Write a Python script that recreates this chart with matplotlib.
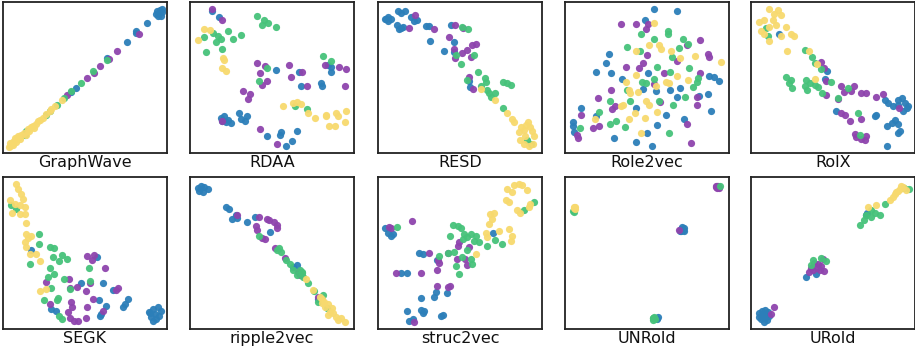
import matplotlib
matplotlib.use("Agg")
import matplotlib.pyplot as plt
import numpy as np

# Embedding coordinates (0-100 box, y up), one list per class
# class order: blue, purple, green, yellow

GW_BLUE = [(95, 92.7), (94, 94), (96.5, 91), (95.5, 95), (93.5, 92), (96.8, 93.5), (94.5, 90.5),
           (97, 95.5), (87.8, 86), (81.2, 79.6), (80.8, 81), (75.5, 73.2), (63.7, 62.6), (44.5, 42.9),
           (41.4, 40.7)]
GW_PURPLE = [(82.7, 79), (69.4, 67.7), (64.7, 62.2), (59.2, 57.8), (55.7, 52.7), (51, 49.5), (38.8, 38.5)]
GW_GREEN = [(63.3, 61.5), (54.7, 54.5), (47.3, 46.6), (41.2, 41.3), (37.1, 36.7), (33, 31.9), (28.6, 27.5),
            (26.5, 25.3), (13.9, 14.3), (13.3, 12.1)]
GW_YELLOW = [(35.7, 35.2), (31.6, 30.8), (28.5, 28), (24.5, 23.1), (21.4, 20.9), (18.4, 18), (15.3, 15.8),
             (11.2, 12.1), (8.2, 9.2), (6.1, 7), (4.5, 4.8), (7, 8), (10, 10.5), (17, 17), (20, 19.5),
             (22.5, 22), (26.5, 25.5), (29.5, 29), (5.5, 6), (9, 11), (12.5, 13), (3.8, 4), (6, 5),
             (8, 7), (10.5, 9), (14, 12), (16, 14.5), (19, 16.5), (4.5, 6.5), (7.5, 10)]

RD_BLUE = [(13.4, 94), (17.8, 89.9), (52.2, 54.9), (66.4, 53.8), (67.4, 44.4), (79.6, 46.2), (80.6, 44.4),
           (86.2, 57.1), (86.2, 53.8), (84.2, 58.2), (18.8, 23.1), (20.9, 24.2), (22.9, 22), (24.9, 19.8),
           (21.9, 20.2), (19.8, 20.9), (29.6, 26.2), (31, 22.4), (35, 24.2), (33.6, 20.9), (47.2, 11.4),
           (54.9, 12.1), (55.3, 13.6), (58.3, 4.8), (61.9, 8.1), (65.4, 14.3)]
RD_PURPLE = [(13.4, 95.6), (19.4, 88.4), (41.1, 59.3), (42.7, 53.2), (45.7, 57.6), (47.2, 47.7), (44.1, 45.1),
             (60.3, 58.2), (61.3, 50.1), (68, 53.8), (71.1, 44.6), (82.6, 58.2), (91.1, 57.1), (95.3, 55.6),
             (94.3, 44.4), (32.4, 41.3), (36.4, 39.1), (35.6, 35.6), (19.8, 20.9), (42.7, 16), (53.2, 5.9)]
RD_GREEN = [(41.1, 90.8), (45.1, 88), (44.1, 84.6), (47.8, 86.2), (52.2, 83.5), (14.2, 79.6), (8.3, 76.5),
            (16.8, 77.6), (15.8, 73.8), (18.8, 75.8), (23.1, 80.7), (26.5, 75.2), (31.4, 78), (19.8, 68.8),
            (9.7, 66.6), (47.2, 56.5), (42.1, 47.7), (81.2, 64.2), (86.2, 60.9), (63.9, 30.8), (71.4, 29)]
RD_YELLOW = [(8.3, 81.8), (12.1, 81.3), (4.7, 74.7), (20.4, 63.1), (20.9, 61.5), (19.8, 56), (21.9, 54.5),
             (56.9, 31.2), (62.9, 33.4), (65.4, 34.1), (67.4, 32.5), (72.1, 26.8), (76.1, 23.1), (83, 25.3),
             (83.2, 24.2), (89, 26.6), (95.1, 27.7), (90.1, 24.2), (85, 17.6), (88.3, 17.6), (94.7, 20.2)]

RS_BLUE = [(4, 89), (6.1, 90.1), (8.1, 89), (6.1, 87.5), (5, 88.5), (12.1, 94.1), (14.1, 92.5), (16.2, 94.1),
           (11.7, 84.6), (14.1, 82.9), (13.1, 81.8), (15.2, 83.7), (20.2, 90.3), (23.8, 88.1), (22.2, 87.5),
           (29.3, 84.2), (31.3, 84.2), (44.4, 84.8), (31.9, 74.3), (40.4, 67.7), (46.5, 73.6), (46.5, 66.8),
           (55.6, 47.9), (56.2, 43.9)]
RS_PURPLE = [(22.8, 91.2), (18.6, 82.9), (33.9, 82.4), (46.9, 84.6), (52.1, 83.1), (43, 76.9), (46.1, 69.2),
             (46.9, 62.6), (51.5, 65.9), (54.1, 68.1), (57.6, 71.4), (59.6, 72.5), (57, 63.7), (55.6, 50.5),
             (57.8, 42.2)]
RS_GREEN = [(51.5, 83.5), (54.9, 82.2), (47.5, 64.8), (58.6, 64.8), (50.5, 58.9), (61.2, 53.8), (65, 49.6),
            (65.7, 47.3), (54.5, 48.6), (62.6, 44.4), (66.3, 41.8), (67.7, 40), (71.3, 40), (76.4, 47.3),
            (78.8, 46.6), (80.8, 45.1), (69.1, 37.4), (76.4, 29.7), (90.9, 8.8), (93.3, 6.2)]
RS_YELLOW = [(62.6, 42.2), (71.1, 35.2), (78.8, 26.8), (81.8, 22.6), (82.8, 20.2), (91.3, 20.4), (92.9, 17),
             (86.9, 17.4), (88.9, 15.4), (93.9, 14.3), (85.9, 13.6), (94.9, 11), (86.5, 8.8), (89.9, 11),
             (91.9, 4.4), (94.5, 6.2), (88.9, 6.2), (90.5, 18.5)]

R2_BLUE = [(54.1, 95.2), (68.1, 93.8), (48.9, 87.9), (26.7, 65.5), (24.8, 59.3), (18.8, 53.4), (28.3, 52.7),
           (34.9, 49), (50.5, 53.2), (47.5, 42.4), (55.6, 41.1), (64, 41.8), (70.3, 42.9), (81.8, 38),
           (87.5, 51.2), (90.9, 50.5), (94, 48), (87.3, 38.9), (68.1, 36.9), (43.4, 29.7), (61.6, 25.3),
           (72.7, 22.4), (55.9, 18.7), (9.5, 30.1), (4.6, 20.2), (4.6, 18), (5.5, 13.6), (19.2, 24.8),
           (29.7, 9.9), (49.9, 13.2), (43.4, 7.3), (53.1, 4.8), (89.3, 27.9)]
R2_PURPLE = [(33.9, 85.3), (43.4, 85.1), (50.5, 85.7), (49.5, 81.8), (74.3, 71.4), (82.4, 74.7), (50.1, 64.8),
             (47.5, 59.8), (37, 56.7), (45.1, 56), (68.1, 60.9), (60.2, 53.2), (82.2, 53.2), (86.9, 65.5),
             (87.9, 63.7), (54.5, 45.7), (58.2, 34.1), (27.9, 41.8), (20.2, 36.3), (30.3, 31.2), (28.9, 29.2),
             (9.5, 25.1), (20.8, 18), (17.2, 16.5), (7.1, 12.1), (8.1, 9.9), (74.3, 19.1), (80.2, 36.9),
             (80.4, 32.1), (76.8, 6.6)]
R2_GREEN = [(62.6, 80.7), (62.6, 78.5), (46.1, 78.5), (54.1, 75.4), (71.7, 75.8), (75.2, 72.1), (69.7, 69.5),
            (38, 70.5), (45.9, 67.5), (65.1, 63.7), (56.2, 57.1), (64, 53.8), (75.4, 56), (81.4, 49.5),
            (80.2, 47.3), (47.1, 47.3), (49.5, 46.2), (54.1, 48.8), (37.8, 42), (39.8, 34.6), (27.7, 34.3),
            (20.6, 27.3), (30.9, 21.3), (27.3, 19.1), (36.4, 17.4), (57.2, 34.6), (65.7, 31.9), (73.3, 36.9),
            (77.8, 44), (9.1, 16.5), (63.6, 13.2)]
R2_YELLOW = [(54.5, 86.2), (51.5, 71.4), (57.6, 71.4), (58.6, 69.2), (43.4, 67.5), (64.7, 67.5), (70.3, 63.1),
             (79.4, 64.2), (95, 60.2), (43.4, 51.6), (37, 46.8), (39.1, 41.8), (44.4, 40.2), (61.6, 47.3),
             (63.2, 46.6), (68.1, 51), (74.7, 48.1), (49.1, 34.6), (51.1, 31.9), (35.4, 31.9), (34.3, 31.2),
             (56.2, 27.3), (42.4, 26.4), (39, 22.4), (48.5, 23.5), (18.2, 22.4), (46.5, 13.2), (55.6, 44.4),
             (39.4, 39.6)]

RX_BLUE = [(16.9, 78.9), (46.5, 54.5), (45.3, 48.8), (52, 28.1), (81.6, 35.2), (83.7, 33), (86.7, 30.8),
           (89.8, 35.2), (91.8, 36.3), (93.9, 33), (95.9, 30.8), (92.9, 27.5), (94.9, 29.7), (89.8, 31.9),
           (76.5, 25.3), (75.5, 24.2), (87.8, 22), (85.7, 19.8), (82.7, 17.6), (89.4, 19.3), (89.8, 13.2),
           (90.8, 14.3), (82.7, 4.8)]
RX_PURPLE = [(42.9, 60), (44.5, 56.3), (45.9, 47.5), (45.9, 38.5), (53.1, 35.6), (55.1, 44.4), (56.7, 40.7),
             (61.2, 41.3), (62.9, 44.4), (66.9, 40), (69.9, 40), (76.5, 36.9), (80.6, 39.1), (55.1, 26.4),
             (57.1, 25.3), (60.2, 20.9), (66.9, 22.4), (90.2, 29.7), (63.3, 12.7), (64.3, 10.5), (67.3, 9.2),
             (70.4, 11.4), (69.4, 8.8)]
RX_GREEN = [(9.2, 83.1), (10.6, 77.4), (32.7, 68.1), (37.1, 63.3), (38.8, 59.3), (42.4, 55.4), (49, 47.3),
            (21.4, 50.1), (24.5, 48.4), (22.9, 46.2), (25.1, 42.9), (33.7, 48.4), (32.7, 44.4), (35.7, 46.2),
            (34.3, 41.8), (38.8, 45.1), (40.8, 43.5), (43.3, 40), (53.1, 36.3), (59.2, 43.3), (65.3, 26.8),
            (66.3, 12.1)]
RX_YELLOW = [(11.2, 95.6), (16.3, 94.5), (14.3, 92.3), (18.4, 91.2), (5.1, 86.8), (8.2, 87.9), (13.3, 87.9),
             (15.3, 84.6), (11.2, 83.5), (21.4, 83.5), (6.1, 80.7), (8.2, 79.1), (18.4, 77.4), (24.1, 79.1),
             (26.5, 77.4), (11.2, 74.5), (21.8, 67.3), (35.3, 67.3), (40.4, 59.1), (38.8, 48.8)]

SG_BLUE = [(17.3, 52), (57.3, 47.3), (47.8, 30.1), (61, 30.1), (58.5, 18.9), (29.5, 13.2), (32.5, 12.1),
           (67.1, 25.7), (62.6, 14.9), (60, 10.1), (59, 8.4), (73.2, 14.3), (74.2, 16.5), (76.2, 19.8),
           (89, 11), (91.5, 13.2), (94.5, 14.3), (92.5, 9.9), (95.1, 8.8), (90.4, 7.7), (93.5, 6.6),
           (89.4, 10.5), (96.5, 12.1), (91.5, 5.5)]
SG_PURPLE = [(51.2, 48.1), (54.5, 45.1), (55.3, 48.8), (62, 40.4), (26, 30.8), (40.2, 33), (41.1, 26.8),
             (45.1, 27.5), (50.4, 25.3), (52.8, 30.5), (54.9, 19.8), (28.5, 16.5), (41.7, 17.6), (42.3, 14.3),
             (51.4, 14.7), (39.6, 11), (40.7, 7.3), (43.1, 5.5), (45.7, 5.5), (50.8, 7.3), (70.1, 27),
             (68.7, 25.7), (61, 12.1)]
SG_GREEN = [(5.1, 81.8), (7.7, 79.1), (22, 62.6), (22, 55.6), (28.5, 53.8), (30.9, 53.4), (30.5, 47.3),
            (36.2, 49), (34.1, 44.6), (39, 46.2), (16.3, 42.9), (28.9, 40.2), (30.9, 36.5), (27.4, 34.3),
            (37, 33), (29.5, 26.8), (40.7, 26.2), (24.8, 18.9), (32.9, 18.9), (33.5, 20.7), (34.1, 8.8),
            (36.2, 6.6), (53.3, 31.9), (52.4, 40.4)]
SG_YELLOW = [(8.1, 95.6), (9.1, 92.3), (11.2, 89), (12.2, 85.7), (4.1, 84.6), (7.1, 82.4), (10.2, 81.3),
             (13.2, 80.2), (5.7, 76.3), (10.6, 75.4), (13.2, 75.8), (13.8, 69.7), (14.2, 62.6), (17.3, 60.9),
             (15.2, 60), (13.2, 57.1), (13.8, 53.8), (16.3, 49.5), (20.3, 49.5), (22.4, 44.6), (22.8, 25.3),
             (26, 26.4)]

RP_BLUE = [(4.6, 93), (6.7, 93.8), (8.7, 93.4), (10.7, 92.3), (7.7, 90.1), (5.6, 90.5), (22.2, 80.2),
           (23.8, 78.7), (25.4, 72.5), (27.8, 74.7), (28.8, 72.9), (34.9, 70.3), (39.5, 73.6), (49, 63.5),
           (65.1, 41.8), (78.2, 19.8), (63.1, 41.1)]
RP_PURPLE = [(28.8, 75.2), (42.3, 73.6), (47, 72.5), (48.4, 71.4), (51, 70.3), (53, 68.1), (53, 66.4),
             (40.3, 67.9), (40.9, 65), (43.9, 59.8), (45.6, 58.9), (52, 53.2), (58.1, 46.6), (66.1, 37.4),
             (67.1, 35.6), (78.2, 21.3)]
RP_GREEN = [(42.3, 61.5), (53, 52), (54, 53.2), (55.6, 50.5), (58.5, 45.5), (61.1, 42.6), (63.1, 38.9),
            (67.1, 38.9), (68.5, 36.7), (65.1, 35.6), (69, 34.5), (72.2, 30.1), (75.8, 25.1), (81.3, 22.4),
            (77.8, 18), (83.3, 13.6), (68.5, 37.4)]
RP_YELLOW = [(70.6, 33), (75.2, 25.7), (79.2, 21.3), (80.2, 19.8), (81.9, 17.6), (84.3, 16.3), (82.3, 14.7),
             (86.3, 13.6), (85.3, 11.4), (87.3, 10.3), (89.3, 8.1), (91.9, 7), (94.4, 4.8), (90.3, 5.9),
             (84.3, 9.2), (80.2, 17)]

S2_BLUE = [(4, 66.4), (6.1, 62.9), (7.7, 61.3), (9.1, 62.4), (25.3, 50.1), (27.3, 49.2), (35.8, 45.3),
           (14.1, 37.1), (17.8, 37.1), (70.1, 63.1), (35.4, 24.2), (34.3, 21.3), (42, 23.5), (26.3, 20.2),
           (17.8, 12.1), (26.3, 12.5), (27.3, 10.3), (28.3, 12.1), (19.2, 5.5), (21.2, 6.6), (38.4, 8.8),
           (39.4, 9.2)]
S2_PURPLE = [(6.5, 67.3), (8.1, 66.4), (20.8, 70.8), (49.1, 57.4), (48.5, 54.5), (31.3, 50.3), (42.4, 49.7),
             (36.4, 45.3), (37.4, 43.7), (52.9, 46.2), (54.1, 42.2), (48.1, 45.9), (11.1, 37.1), (26.3, 37.1),
             (36, 38.7), (36, 28.6), (42.4, 27.9), (44, 28.6), (21.8, 4.4), (55.6, 53.8)]
S2_GREEN = [(95, 83.7), (88.9, 78.2), (45.5, 68.1), (48.5, 67.5), (50.5, 66.6), (44.1, 61.3), (52.5, 62.6),
            (54.5, 60.4), (56.6, 62.6), (59.6, 61.5), (52.1, 59.3), (58.6, 58.2), (61.6, 57.1), (37.4, 47.7),
            (42.4, 50.1), (46.5, 50.8), (51.5, 47.5), (54.5, 52), (47.5, 41.5), (57.6, 42.6), (49.5, 36.3),
            (71.1, 58.7), (75.8, 55.6), (66.7, 54.3), (11.7, 67), (56.6, 46.2)]
S2_YELLOW = [(78.8, 92.3), (82.8, 94.5), (85.9, 95.2), (87.9, 94.5), (81.8, 90.1), (77.8, 84.6), (79.8, 83.5),
             (90.9, 91.4), (92.9, 82.2), (91.9, 80.4), (84.8, 78), (86.5, 76.3), (68.3, 75.4), (70.7, 76.3),
             (69.7, 72.5), (67.7, 69.2), (65.7, 63.1), (73.7, 64.8), (79.8, 65.9), (81.8, 60.9), (80.8, 58.2),
             (59.6, 49.5), (66.7, 60.4)]

UN_BLUE = [(71.3, 65.5), (70.5, 66), (72, 65), (71, 64.8), (72.3, 66.2), (70.2, 64.6), (72.6, 64.6),
           (71.6, 67), (56.2, 6.6), (56.6, 7.6)]
UN_PURPLE = [(69.8, 65), (92.9, 93.8), (92.3, 93.2), (93.5, 94.3), (92.8, 92.8), (91.8, 94.2), (93.8, 93)]
UN_GREEN = [(53.9, 7), (53.4, 7.4), (54.6, 6.8), (53.6, 6.2), (54.4, 8), (94.3, 94.4), (5.1, 77.6),
            (5.5, 77.2)]
UN_YELLOW = [(5.5, 79.6), (5.2, 80.5), (5.8, 78.8), (5.9, 80.2)]

UR_BLUE = [(7.1, 8.8), (9.2, 7.7), (6.1, 6.6), (8.1, 10.3), (10.2, 11.4), (5.1, 8.1), (7.7, 4.8),
           (11.2, 8.8), (6.5, 11.6), (9.5, 5.7), (4.6, 10.5), (8.6, 12.6), (33.6, 34.1), (39.7, 36.3),
           (69.9, 74.7), (70.9, 76.3)]
UR_PURPLE = [(14.3, 14.3), (12.2, 9.9), (35.6, 37.4), (40.7, 42.9), (43.8, 46.2), (41.8, 38.7), (44.4, 38.2),
             (38.7, 43.5), (42.4, 41.3), (36.7, 40), (40.2, 40), (37.5, 38.5)]
UR_GREEN = [(37.7, 45.1), (42.4, 46.8), (45.8, 44.6), (36.7, 41.8), (66.2, 68.1), (68.6, 71.4), (70, 74.7),
            (73.3, 73.6), (78.4, 74.7), (75.4, 76.3), (72.9, 78.5), (81.5, 82.4), (93.3, 92.5), (96.1, 92.3)]
UR_YELLOW = [(71.3, 80.2), (76.4, 81.3), (84.5, 85.1), (86.6, 86.8), (88.6, 90.1), (90.6, 92.3), (92.7, 93.4),
             (94.7, 91.2), (87.5, 88.5), (89.5, 91), (91.5, 94)]

PANEL_NAMES = ["GraphWave", "RDAA", "RESD", "Role2vec", "RolX",
               "SEGK", "ripple2vec", "struc2vec", "UNRold", "URold"]
PANEL_POINTS = [
    (GW_BLUE, GW_PURPLE, GW_GREEN, GW_YELLOW),
    (RD_BLUE, RD_PURPLE, RD_GREEN, RD_YELLOW),
    (RS_BLUE, RS_PURPLE, RS_GREEN, RS_YELLOW),
    (R2_BLUE, R2_PURPLE, R2_GREEN, R2_YELLOW),
    (RX_BLUE, RX_PURPLE, RX_GREEN, RX_YELLOW),
    (SG_BLUE, SG_PURPLE, SG_GREEN, SG_YELLOW),
    (RP_BLUE, RP_PURPLE, RP_GREEN, RP_YELLOW),
    (S2_BLUE, S2_PURPLE, S2_GREEN, S2_YELLOW),
    (UN_BLUE, UN_PURPLE, UN_GREEN, UN_YELLOW),
    (UR_BLUE, UR_PURPLE, UR_GREEN, UR_YELLOW),
]
CLASS_COLORS = ["#2c7fb9", "#8e44ad", "#46c27a", "#f7d96e"]

W, H = 915, 352
fig = plt.figure(figsize=(W / 100, H / 100), dpi=100)

# panel boxes in pixels
lefts = [3, 190, 378, 565, 751]
rows = [(2, 153), (177, 329)]
panel_w = 164

for k, (name, groups) in enumerate(zip(PANEL_NAMES, PANEL_POINTS)):
    r, c = divmod(k, 5)
    top, bot = rows[r]
    ax = fig.add_axes([lefts[c] / W, 1 - bot / H, panel_w / W, (bot - top) / H])
    for cls in range(4):
        pts = np.array(groups[cls])
        ax.scatter(pts[:, 0], pts[:, 1], s=27, color=CLASS_COLORS[cls],
                   alpha=0.95, linewidths=0)
    ax.set_xlim(0, 100)
    ax.set_ylim(0, 100)
    ax.set_xticks([])
    ax.set_yticks([])
    for sp in ax.spines.values():
        sp.set_color("#222222")
        sp.set_linewidth(1.3)
    ax.set_xlabel(name, fontsize=11.5, labelpad=1.5, color="#111111")

fig.savefig("out.png", dpi=100)
